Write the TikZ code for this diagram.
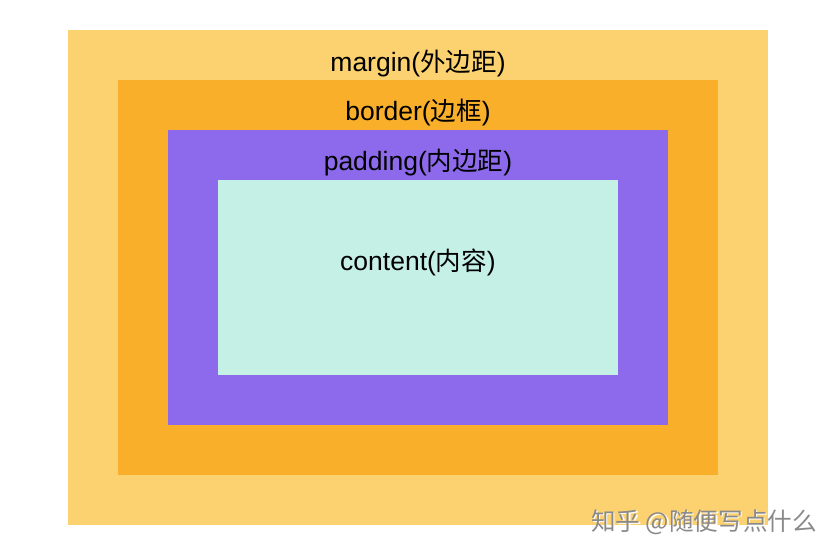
\documentclass[tikz,border=0pt]{standalone}
\usepackage{fontspec}
\setmainfont{Liberation Sans}
\newfontfamily\cjk{Noto Sans CJK SC}
\definecolor{cmargin}{HTML}{FCD16F}
\definecolor{cborder}{HTML}{F9AF2A}
\definecolor{cpadding}{HTML}{8D6AEB}
\definecolor{ccontent}{HTML}{C4F0E6}
\definecolor{cmark}{HTML}{8A8A8A}
\tikzset{
  lbl/.style={font=\fontsize{26.5}{30}\selectfont, text=black, inner sep=0pt},
  wmark/.style={font=\cjk\fontsize{24.6}{27}\selectfont, text=cmark, inner sep=0pt}
}
\newcommand{\zh}[1]{{\cjk\fontsize{25.5}{30}\selectfont #1}}
\begin{document}
\begin{tikzpicture}[x=1pt,y=-1pt]
\useasboundingbox (0,0) rectangle (840,558);
\fill[white] (0,0) rectangle (840,558);
\fill[cmargin] (68,30) rectangle (768,525);
\fill[cborder] (118,80) rectangle (718,475);
\fill[cpadding] (168,130) rectangle (668,425);
\fill[ccontent] (218,180) rectangle (618,375);
\node[lbl] (m) at (418,64) {margin(\zh{外边距})};
\node[lbl] (b) at (418,113) {border(\zh{边框})};
\node[lbl] (p) at (418,163) {padding(\zh{内边距})};
\node[lbl] (c) at (418,262) {content(\zh{内容})};
\node[wmark, text=white] (w2) at (705.5,523.5) {知乎 @随便写点什么};
\node[wmark] (w) at (704,522) {知乎 @随便写点什么};
\end{tikzpicture}
\end{document}
